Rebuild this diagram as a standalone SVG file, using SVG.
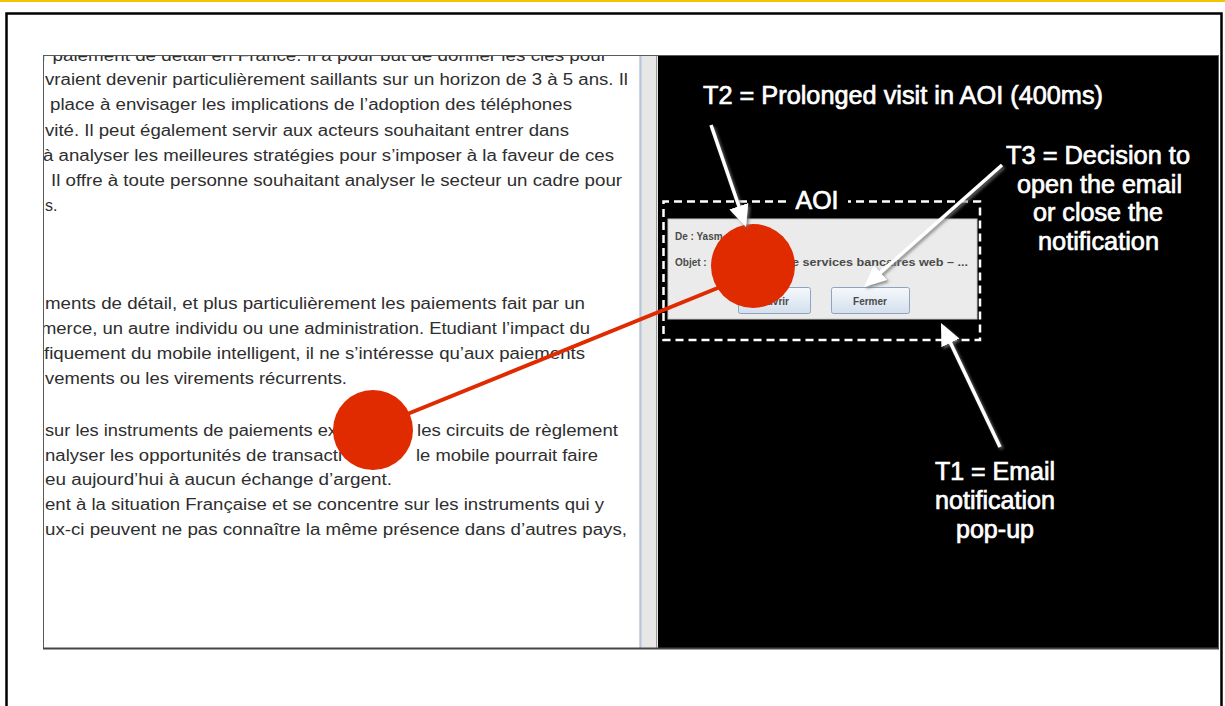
<svg xmlns="http://www.w3.org/2000/svg" width="1225" height="706" viewBox="0 0 1225 706">
  <defs>
    <style>
      .doc { font-family: "Liberation Sans", Arial, sans-serif; font-size: 16px; fill: #2e2e2e; }
      .lbl { font-family: "Liberation Sans", Arial, sans-serif; font-size: 25px; fill: #ffffff; stroke: #ffffff; stroke-width: 0.7; }
      .lblc { font-family: "Liberation Sans", Arial, sans-serif; font-size: 25px; fill: #ffffff; stroke: #ffffff; stroke-width: 0.7; text-anchor: middle; }
      .pop { font-family: "Liberation Sans", Arial, sans-serif; font-size: 10px; font-weight: bold; fill: #4a4a4a; }
      .btn { fill: url(#btnGrad); stroke: #8ea5c0; stroke-width: 1; }
      .gaze { fill: #e02a00; }
      .wArrow { stroke: #ffffff; stroke-width: 3.5; fill: none; marker-end: url(#head); filter: url(#shadow); }
    </style>
    <linearGradient id="btnGrad" x1="0" y1="0" x2="0" y2="1">
      <stop offset="0" stop-color="#f6f9fd"/>
      <stop offset="1" stop-color="#d3dfec"/>
    </linearGradient>
    <marker id="head" viewBox="0 0 22 20" markerWidth="22" markerHeight="20" refX="18" refY="10" orient="auto" markerUnits="userSpaceOnUse">
      <path d="M0,0 L22,10 L0,20 z" fill="#ffffff"/>
    </marker>
    <filter id="shadow" x="-20%" y="-20%" width="140%" height="140%">
      <feDropShadow dx="2" dy="2" stdDeviation="1.5" flood-color="#777777" flood-opacity="0.8"/>
    </filter>
    <clipPath id="docClip">
      <rect x="44" y="56" width="595" height="592"/>
    </clipPath>
  </defs>

  <!-- page frame -->
  <g id="frame">
    <rect x="0" y="0" width="1225" height="2" fill="#f5c400"/>
    <rect x="6.5" y="13.5" width="1215" height="720" fill="none" stroke="#000000" stroke-width="2.5"/>
  </g>

  <!-- screenshot -->
  <g id="screenshot">
    <rect x="44" y="56" width="595" height="592" fill="#ffffff"/>
    <rect x="639" y="56" width="19" height="592" fill="#e7e7e7"/>
    <line x1="640.5" y1="56" x2="640.5" y2="648" stroke="#b6c6d8" stroke-width="2"/>
    <line x1="656.5" y1="56" x2="656.5" y2="648" stroke="#9a9a9a" stroke-width="1"/>
    <rect x="658" y="56" width="560" height="592" fill="#000000"/>
    <rect x="43.5" y="55.5" width="1175" height="593" fill="none" stroke="#5a5a5a" stroke-width="1"/>
    <line x1="43" y1="648.5" x2="1219" y2="648.5" stroke="#444444" stroke-width="2"/>
  </g>

  <g id="document-text" clip-path="url(#docClip)">
    <text class="doc" x="41" y="61" textLength="566" lengthAdjust="spacingAndGlyphs">r paiement de détail en France. Il a pour but de donner les clés pour</text>
    <text class="doc" x="45" y="85" textLength="583" lengthAdjust="spacingAndGlyphs">vraient devenir particulièrement saillants sur un horizon de 3 à 5 ans. Il</text>
    <text class="doc" x="50" y="110" textLength="522" lengthAdjust="spacingAndGlyphs">place à envisager les implications de l’adoption des téléphones</text>
    <text class="doc" x="45" y="136" textLength="524" lengthAdjust="spacingAndGlyphs">vité. Il peut également servir aux acteurs souhaitant entrer dans</text>
    <text class="doc" x="43" y="161" textLength="571" lengthAdjust="spacingAndGlyphs">à analyser les meilleures stratégies pour s’imposer à la faveur de ces</text>
    <text class="doc" x="51" y="186" textLength="571" lengthAdjust="spacingAndGlyphs">Il offre à toute personne souhaitant analyser le secteur un cadre pour</text>
    <text class="doc" x="45" y="211">s.</text>

    <text class="doc" x="45" y="309" textLength="540" lengthAdjust="spacingAndGlyphs">ments de détail, et plus particulièrement les paiements fait par un</text>
    <text class="doc" x="41" y="334" textLength="549" lengthAdjust="spacingAndGlyphs">merce, un autre individu ou une administration. Etudiant l’impact du</text>
    <text class="doc" x="44" y="359" textLength="541" lengthAdjust="spacingAndGlyphs">fiquement du mobile intelligent, il ne s’intéresse qu’aux paiements</text>
    <text class="doc" x="45" y="384" textLength="302" lengthAdjust="spacingAndGlyphs">vements ou les virements récurrents.</text>

    <text class="doc" x="45" y="436" textLength="292" lengthAdjust="spacingAndGlyphs">sur les instruments de paiements ex</text>
    <text class="doc" x="417" y="436" textLength="201" lengthAdjust="spacingAndGlyphs">les circuits de règlement</text>
    <text class="doc" x="45" y="461" textLength="297" lengthAdjust="spacingAndGlyphs">nalyser les opportunités de transacti</text>
    <text class="doc" x="416" y="461" textLength="182" lengthAdjust="spacingAndGlyphs">le mobile pourrait faire</text>
    <text class="doc" x="45" y="485" textLength="347" lengthAdjust="spacingAndGlyphs">eu aujourd’hui à aucun échange d’argent.</text>
    <text class="doc" x="45" y="510" textLength="559" lengthAdjust="spacingAndGlyphs">ent à la situation Française et se concentre sur les instruments qui y</text>
    <text class="doc" x="45" y="535" textLength="582" lengthAdjust="spacingAndGlyphs">ux-ci peuvent ne pas connaître la même présence dans d’autres pays,</text>
  </g>

  <!-- email notification pop-up -->
  <g id="popup">
    <rect x="668" y="219" width="309" height="100" fill="#ebebeb" stroke="#c8c8c8" stroke-width="1"/>
    <text class="pop" x="675" y="240">De : Yasm</text>
    <text class="pop" x="675" y="266">Objet :</text>
    <text class="pop" x="792" y="266" textLength="176" lengthAdjust="spacingAndGlyphs">e services bancaires web – ...</text>
    <rect class="btn" x="738.5" y="287.5" width="72" height="26" rx="2"/>
    <text class="pop" x="774" y="305" text-anchor="middle">Ouvrir</text>
    <rect class="btn" x="831.5" y="287.5" width="78" height="26" rx="2"/>
    <text class="pop" x="870" y="305" text-anchor="middle">Fermer</text>
  </g>

  <!-- AOI -->
  <g id="aoi">
    <path d="M786,201.5 H663.5 V340 H980 V201.5 H848" fill="none" stroke="#ffffff" stroke-width="2.5" stroke-dasharray="8 5"/>
    <text class="lblc" x="817" y="209" font-size="24" textLength="43" lengthAdjust="spacingAndGlyphs">AOI</text>
  </g>

  <!-- gaze fixations -->
  <g id="fixation-1">
    <circle class="gaze" cx="373" cy="430" r="40"/>
  </g>
  <g id="fixation-2">
    <circle class="gaze" cx="753" cy="266" r="42"/>
  </g>

  <!-- connectors -->
  <g id="connectors">
    <line x1="400" y1="417" x2="730" y2="283" stroke="#e02a00" stroke-width="4"/>
    <line class="wArrow" x1="711" y1="125" x2="744.7" y2="223.2"/>
    <line class="wArrow" x1="1002" y1="165" x2="867" y2="284.4"/>
    <line class="wArrow" x1="1000" y1="447" x2="942.7" y2="326.6"/>
  </g>

  <!-- labels -->
  <g id="label-t2">
    <text class="lbl" x="703" y="104" textLength="400" lengthAdjust="spacingAndGlyphs">T2 = Prolonged visit in AOI (400ms)</text>
  </g>
  <g id="label-t3">
    <text class="lblc" x="1098" y="164" textLength="184" lengthAdjust="spacingAndGlyphs">T3 = Decision to</text>
    <text class="lblc" x="1099.5" y="193" textLength="165" lengthAdjust="spacingAndGlyphs">open the email</text>
    <text class="lblc" x="1098" y="221" textLength="130" lengthAdjust="spacingAndGlyphs">or close the</text>
    <text class="lblc" x="1098.5" y="250" textLength="121" lengthAdjust="spacingAndGlyphs">notification</text>
  </g>
  <g id="label-t1">
    <text class="lblc" x="995" y="480" textLength="120" lengthAdjust="spacingAndGlyphs">T1 = Email</text>
    <text class="lblc" x="995" y="509" textLength="120" lengthAdjust="spacingAndGlyphs">notification</text>
    <text class="lblc" x="995" y="538" textLength="78" lengthAdjust="spacingAndGlyphs">pop-up</text>
  </g>
</svg>
